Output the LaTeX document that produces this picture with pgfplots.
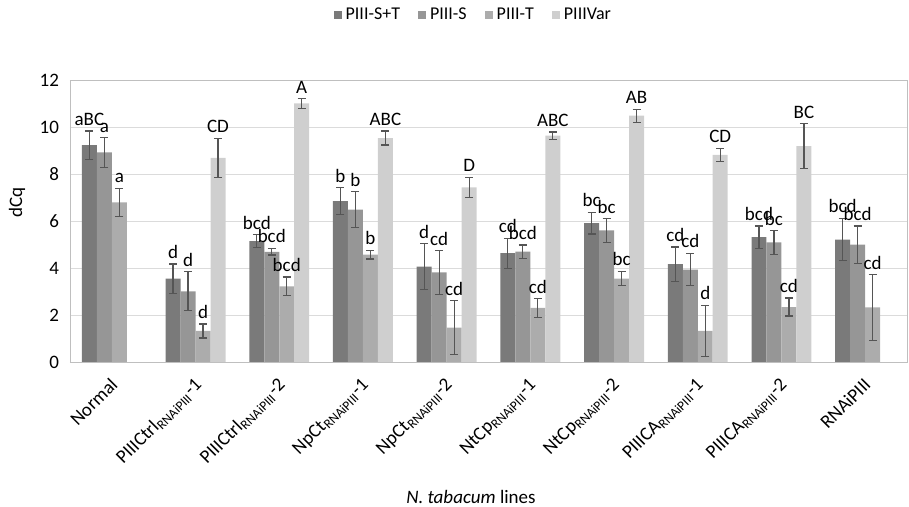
\documentclass[border=0pt]{standalone}
\usepackage{fontspec}
\setmainfont{Carlito}
\usepackage{pgfplots}
\usepackage{pgfplotstable}
\pgfplotsset{compat=1.18}
\definecolor{cST}{RGB}{122,122,122}
\definecolor{cS}{RGB}{150,150,150}
\definecolor{cT}{RGB}{172,172,172}
\definecolor{cVar}{RGB}{207,207,207}
\definecolor{errgray}{RGB}{85,85,85}

% x = line index, y = dCq, e = error, lab = letters
\pgfplotstableread{
x y e lab
0 9.23 0.60 aBC
1 3.55 0.62 d
2 5.14 0.27 bcd
3 6.85 0.57 b
4 4.06 0.97 d
5 4.63 0.64 cd
6 5.91 0.46 bc
7 4.16 0.73 cd
8 5.31 0.48 bcd
9 5.21 0.90 bcd
}\tabST
\pgfplotstableread{
x y e lab
0 8.92 0.63 a
1 3.01 0.83 d
2 4.69 0.14 bcd
3 6.48 0.77 b
4 3.81 0.93 cd
5 4.70 0.28 bcd
6 5.60 0.50 bc
7 3.93 0.69 cd
8 5.09 0.50 bc
9 4.99 0.80 bcd
}\tabS
\pgfplotstableread{
x y e lab
0 6.79 0.60 a
1 1.32 0.30 d
2 3.22 0.40 bcd
3 4.57 0.19 b
4 1.46 1.15 cd
5 2.30 0.40 cd
6 3.55 0.30 bc
7 1.32 1.10 d
8 2.34 0.38 cd
9 2.32 1.39 cd
}\tabT
\pgfplotstableread{
x y e lab
1 8.69 0.83 CD
2 11.00 0.20 A
3 9.53 0.30 ABC
4 7.43 0.43 D
5 9.63 0.16 ABC
6 10.48 0.28 AB
7 8.81 0.29 CD
8 9.19 0.95 BC
}\tabVar

\begin{document}
\begin{tikzpicture}[font=\fontsize{9.5}{11}\selectfont]
\begin{axis}[
  scale only axis, width=418.5pt, height=141pt,
  ybar=0pt, bar width=0.179,
  xmin=-0.5, xmax=9.5, ymin=0, ymax=12,
  ytick={0,2,...,12},
  xtick={0,...,9},
  xticklabels={Normal,
    PIIICtrl\textsubscript{RNAiPIII}-1,
    PIIICtrl\textsubscript{RNAiPIII}-2,
    NpCt\textsubscript{RNAiPIII}-1,
    NpCt\textsubscript{RNAiPIII}-2,
    NtCp\textsubscript{RNAiPIII}-1,
    NtCp\textsubscript{RNAiPIII}-2,
    PIIICA\textsubscript{RNAiPIII}-1,
    PIIICA\textsubscript{RNAiPIII}-2,
    RNAiPIII},
  x tick label style={rotate=45, anchor=north east, inner sep=1pt, xshift=-4.9pt, yshift=-3.1pt},
  y tick label style={xshift=-2pt},
  major tick length=0pt,
  /pgf/number format/assume math mode=true,
  ymajorgrids, grid style={draw=black!14},
  axis line style={draw=black!25},
  ylabel={dCq},
  ylabel style={at={(axis description cs:-0.0633,0.567)}, anchor=center},
  xlabel={\textit{N. tabacum} lines},
  xlabel style={at={(axis description cs:0.479,-0.48)}, anchor=center},
  point meta=explicit symbolic,
  nodes near coords={\pgfplotspointmeta},
  visualization depends on={\thisrow{e} \as \eb},
  every node near coord/.append style={anchor=south, inner sep=1pt, yshift=\eb*11.75pt+1.5pt},
  error bars/y dir=both, error bars/y explicit,
  error bars/error bar style={draw=errgray, line width=0.6pt},
  error bars/error mark options={draw=errgray, line width=0.6pt, mark size=2pt, rotate=90},
  legend columns=4,
  legend style={draw=none, fill=none, at={(0.483,1.23)}, anchor=center,
    font=\fontsize{9}{10}\selectfont,
    /tikz/every even column/.append style={column sep=7pt}},
  legend image code/.code={\fill[#1] (0pt,-2pt) rectangle (4pt,2pt);},
]
\addplot[fill=cST, draw=none] table[x=x, y=y, y error=e, meta=lab] {\tabST};
\addlegendentry{PIII-S+T}
\addplot[fill=cS, draw=none] table[x=x, y=y, y error=e, meta=lab] {\tabS};
\addlegendentry{PIII-S}
\addplot[fill=cT, draw=none] table[x=x, y=y, y error=e, meta=lab] {\tabT};
\addlegendentry{PIII-T}
\addplot[fill=cVar, draw=none] table[x=x, y=y, y error=e, meta=lab] {\tabVar};
\addlegendentry{PIIIVar}
\end{axis}
\pgfresetboundingbox
\path[use as bounding box] (-35pt,-72.5pt) rectangle (419.5pt,181pt);
\end{tikzpicture}
\end{document}
